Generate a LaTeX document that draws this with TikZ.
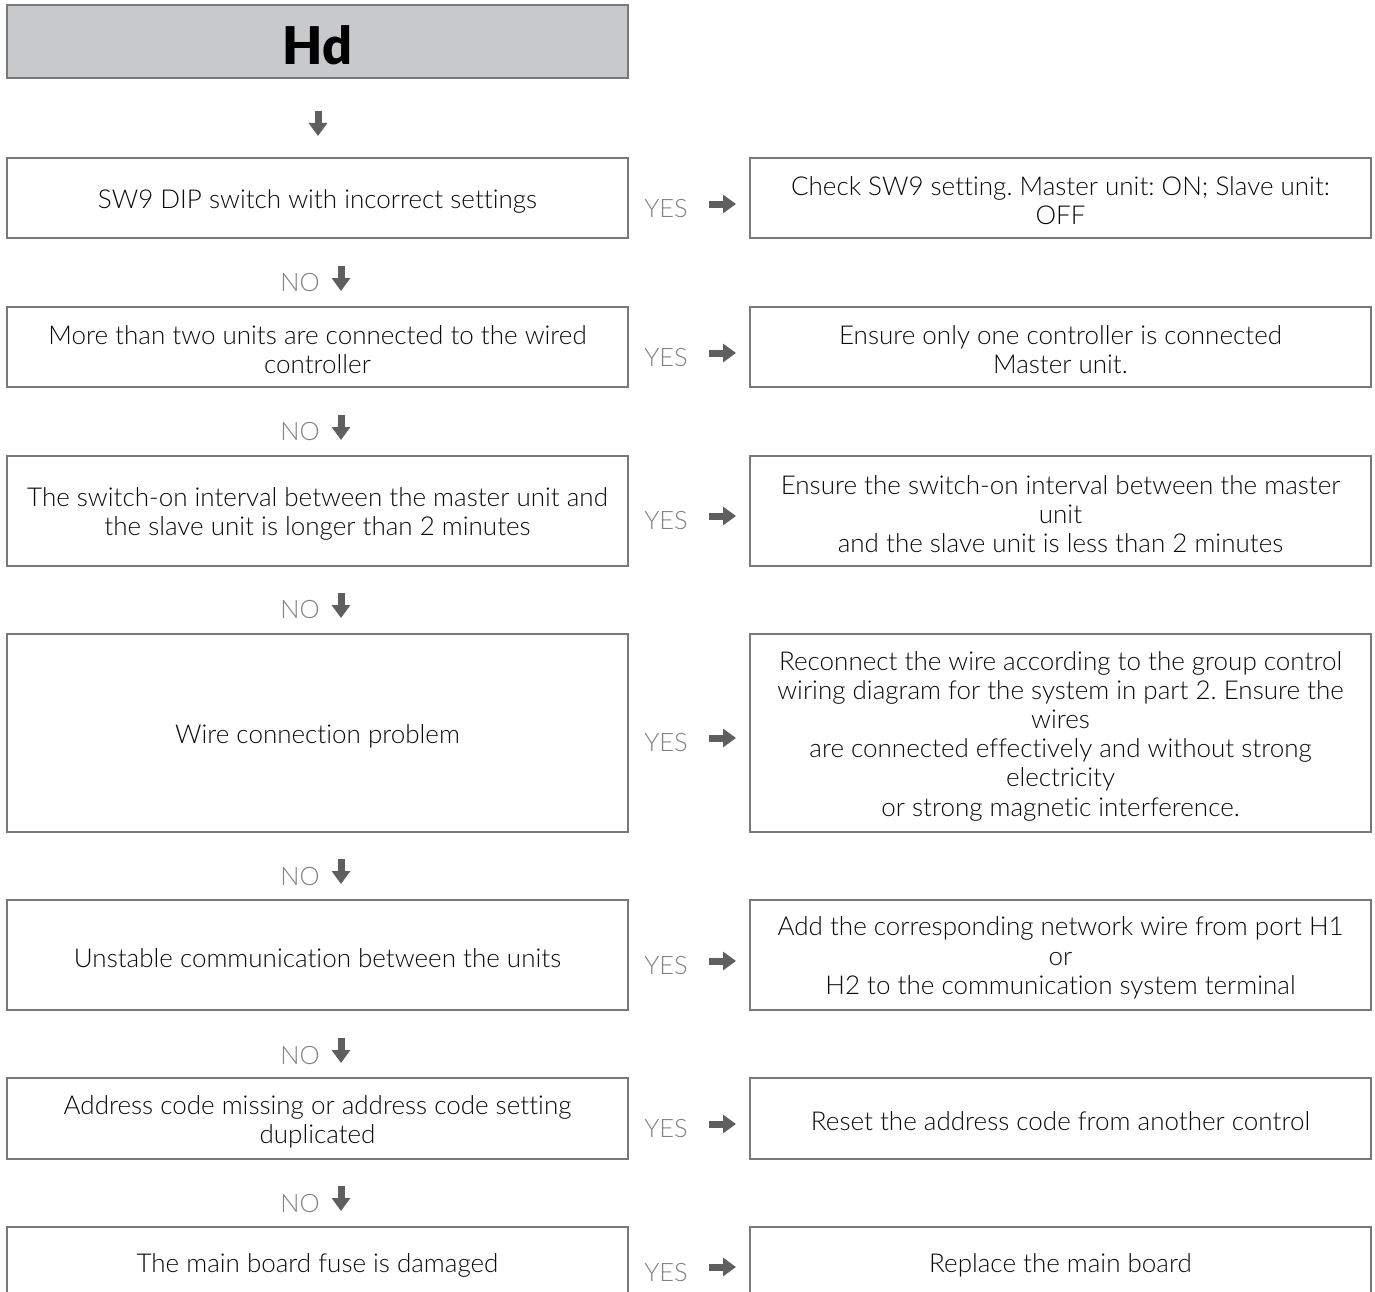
\documentclass[tikz,border=0pt]{standalone}
\usepackage{fontspec}
\setmainfont{Lato}[UprightFont={* Light},BoldFont={* Black},Ligatures=NoCommon]
\frenchspacing
\usetikzlibrary{arrows.meta}
\definecolor{boxline}{RGB}{120,120,120}
\definecolor{headfill}{RGB}{200,201,203}
\definecolor{arrowgray}{RGB}{95,95,95}
\definecolor{labelgray}{RGB}{130,130,130}
\definecolor{txt}{RGB}{10,10,10}
\begin{document}
\begin{tikzpicture}[x=1pt,y=-1pt,
  box/.style={draw=boxline,line width=1.4pt,fill=white,minimum width=621pt,inner sep=0pt},
  boxtext/.style={align=center,inner sep=0pt,text=txt,
    font=\fontsize{26}{29.2}\selectfont},
  lbl/.style={text=labelgray,font=\fontsize{25.4}{29}\selectfont,inner sep=0pt},
  blockarrow/.style={arrowgray,line width=7pt,-{Triangle[width=18pt,length=13pt]}}
]
\useasboundingbox (0,0) rectangle (1375,1292);
\clip (0,0) rectangle (1375,1292);
\fill[white] (0,0) rectangle (1375,1292);

% header
\node[box,fill=headfill,minimum height=73pt] (head) at (317.5,41.5) {};
\node[inner sep=0pt,font=\fontsize{52}{56}\selectfont\bfseries,text=black] (headt) at ([yshift=-4pt]head.center) {Hd};

% left boxes
\node[box,minimum height=80pt] (q1) at (317.5,198) {};
\node[box,minimum height=80pt] (q2) at (317.5,347) {};
\node[box,minimum height=110pt] (q3) at (317.5,511) {};
\node[box,minimum height=198pt] (q4) at (317.5,733) {};
\node[box,minimum height=110pt] (q5) at (317.5,955) {};
\node[box,minimum height=81pt] (q6) at (317.5,1118.5) {};
\node[box,minimum height=74pt] (q7) at (317.5,1264) {};

% right boxes
\node[box,minimum height=80pt] (a1) at (1060.5,198) {};
\node[box,minimum height=80pt] (a2) at (1060.5,347) {};
\node[box,minimum height=110pt] (a3) at (1060.5,511) {};
\node[box,minimum height=198pt] (a4) at (1060.5,733) {};
\node[box,minimum height=110pt] (a5) at (1060.5,955) {};
\node[box,minimum height=81pt] (a6) at (1060.5,1118.5) {};
\node[box,minimum height=74pt] (a7) at (1060.5,1264) {};

% box texts
\node[boxtext] (q1t) at ([yshift=-3pt]q1.center) {SW9 DIP switch with incorrect settings};
\node[boxtext] (q2t) at ([yshift=-3pt]q2.center) {More than two units are connected to the wired\\controller};
\node[boxtext] (q3t) at ([yshift=-3pt]q3.center) {The switch-on interval between the master unit and\\the slave unit is longer than 2 minutes};
\node[boxtext] (q4t) at ([yshift=-3pt]q4.center) {Wire connection problem};
\node[boxtext] (q5t) at ([yshift=-3pt]q5.center) {Unstable communication between the units};
\node[boxtext] (q6t) at ([yshift=-3pt]q6.center) {Address code missing or address code setting\\duplicated};
\node[boxtext] (q7t) at ([yshift=-1pt]q7.center) {The main board fuse is damaged};

\node[boxtext] (a1t) at ([yshift=-3pt]a1.center) {Check SW9 setting. Master unit: ON; Slave unit:\\OFF};
\node[boxtext] (a2t) at ([yshift=-3pt]a2.center) {Ensure only one controller is connected\\Master unit.};
\node[boxtext] (a3t) at ([yshift=-3pt]a3.center) {Ensure the switch-on interval between the master\\unit\\and the slave unit is less than 2 minutes};
\node[boxtext] (a4t) at ([yshift=-3pt]a4.center) {Reconnect the wire according to the group control\\wiring diagram for the system in part 2. Ensure the\\wires\\are connected effectively and without strong\\electricity\\or strong magnetic interference.};
\node[boxtext] (a5t) at ([yshift=-3pt]a5.center) {Add the corresponding network wire from port H1\\or\\H2 to the communication system terminal};
\node[boxtext] (a6t) at ([yshift=-3pt]a6.center) {Reset the address code from another control};
\node[boxtext] (a7t) at ([yshift=-1pt]a7.center) {Replace the main board};

% first down arrow
\coordinate (d0s) at (318,111);
\coordinate (d0e) at (318,136);
\draw[blockarrow] (d0s) -- (d0e);

% YES labels and right arrows
\foreach \i/\y in {1/209,2/358,3/521,4/743,5/966,6/1129,7/1272}{
  \node[lbl] (yes\i) at (666,\y) {YES};
  \coordinate (ys\i) at (709,\y-5);
  \coordinate (ye\i) at (736,\y-5);
  \draw[blockarrow] (ys\i) -- (ye\i);
}

% NO labels and down arrows
\foreach \i/\y in {1/283,2/432,3/610,4/876,5/1055,6/1203}{
  \node[lbl] (no\i) at (300,\y) {NO};
  \coordinate (ns\i) at (341,\y-17);
  \coordinate (ne\i) at (341,\y+8);
  \draw[blockarrow] (ns\i) -- (ne\i);
}
\end{tikzpicture}
\end{document}
